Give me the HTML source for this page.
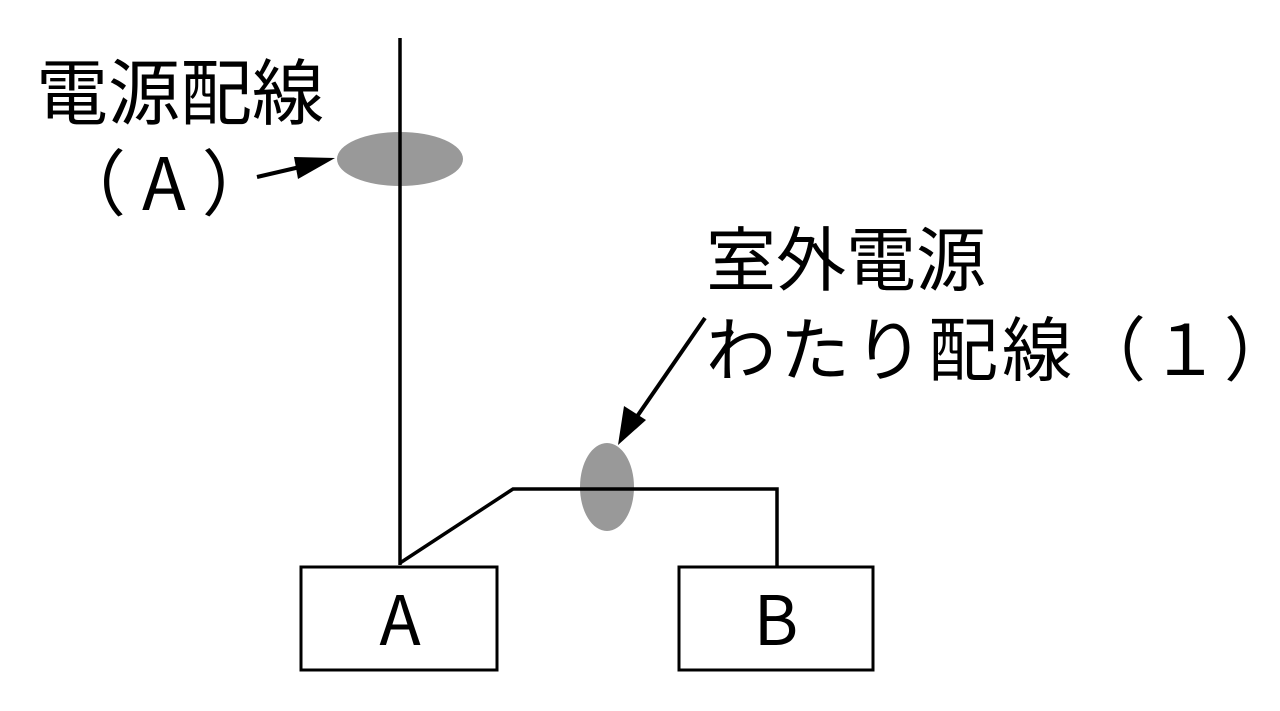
<!DOCTYPE html>
<html><head><meta charset="utf-8"><style>
html,body{margin:0;padding:0;background:#fff;}
svg{display:block}
text{font-family:"Noto Sans CJK JP",sans-serif;fill:#000;}
</style></head><body>
<svg width="1280" height="711" viewBox="0 0 1280 711">
<ellipse cx="400" cy="159" rx="63" ry="27" fill="#999"/>
<ellipse cx="607" cy="487" rx="27" ry="44" fill="#999"/>
<line x1="400" y1="38" x2="400" y2="565" stroke="#000" stroke-width="3.5"/>
<text x="36" y="119" font-size="72">電源配線</text>
<text x="54" y="210" font-size="72" letter-spacing="16">（A）</text>
<line x1="257" y1="177" x2="300" y2="167" stroke="#000" stroke-width="4"/>
<polygon points="335,158 294,157 298,179" fill="#000"/>
<polyline points="400,563 513,489 777,489 777,567" fill="none" stroke="#000" stroke-width="3.5"/>
<text x="706" y="285" font-size="70">室外電源</text>
<text x="706" y="375" font-size="70" letter-spacing="4">わたり配線（１）</text>
<line x1="705" y1="318" x2="636" y2="418" stroke="#000" stroke-width="4"/>
<polygon points="618,445 624,406 646,420" fill="#000"/>
<rect x="301" y="567" width="196" height="103" fill="#fff" stroke="#000" stroke-width="3"/>
<rect x="679" y="567" width="194" height="103" fill="#fff" stroke="#000" stroke-width="3"/>
<text x="400" y="645" font-size="68" text-anchor="middle">A</text>
<text x="776" y="645" font-size="68" text-anchor="middle">B</text>
</svg>
</body></html>
